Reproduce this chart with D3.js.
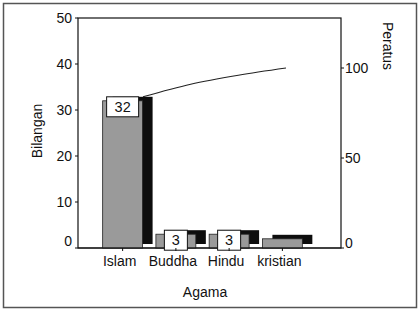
<!DOCTYPE html>
<html>
<head>
<meta charset="utf-8">
<script src="https://cdn.jsdelivr.net/npm/d3@7"></script>
<style>
body{margin:0;background:#fff;}
svg text{font-family:"Liberation Sans",Arial,sans-serif;fill:#111;}
</style>
</head>
<body>
<script>
// data
var categories=["Islam","Buddha","Hindu","kristian"];
var counts=[32,3,3,2];
var labels=["32","3","3",""];		// kristian has no value box
var cumPercent=[84,91,96,100];
var leftTicks=[0,10,20,30,40,50];
var rightTicks=[0,50,100];

var W=419,H=309;
var plot={left:78,right:341,top:18,bottom:248};
var depth={x:10,y:-4};	//offset of the black shadow behind each bar

var svg=d3.select("body").append("svg")
	.attr("width",W)
	.attr("height",H);

// page border
svg.append("rect")
	.attr("x",3.5).attr("y",3.5)
	.attr("width",W-6).attr("height",H-5)
	.attr("fill","none")
	.attr("stroke","#555")
	.attr("stroke-width",1.5);

var x=d3.scaleBand()
	.domain(categories)
	.range([96,309])
	.paddingInner(0.25)
	.paddingOuter(0.125);

var yL=d3.scaleLinear().domain([0,50]).range([plot.bottom,plot.top]);
var yR=d3.scaleLinear().domain([0,100]).range([plot.bottom,68]);
var xLine=d3.scalePoint().domain(categories).range([143,286]);

// frame
svg.append("rect")
	.attr("x",plot.left).attr("y",plot.top)
	.attr("width",plot.right-plot.left)
	.attr("height",plot.bottom-plot.top)
	.attr("fill","none")
	.attr("stroke","#111")
	.attr("stroke-width",1.2);

var data=categories.map(function(c,i){return {cat:c,val:counts[i],lab:labels[i]};});

// shadows first, then the grey fronts
svg.selectAll(".shadow")
	.data(data)
	.enter().append("rect")
	.attr("class","shadow")
	.attr("x",function(d){return x(d.cat)+depth.x;})
	.attr("y",function(d){return yL(d.val)+depth.y;})
	.attr("width",x.bandwidth())
	.attr("height",function(d){return plot.bottom-yL(d.val);})
	.attr("fill","#0d0d0d");

svg.selectAll(".bar")
	.data(data)
	.enter().append("rect")
	.attr("class","bar")
	.attr("x",function(d){return x(d.cat);})
	.attr("y",function(d){return yL(d.val);})
	.attr("width",x.bandwidth())
	.attr("height",function(d){return plot.bottom-yL(d.val);})
	.attr("fill","#9a9a9a")
	.attr("stroke","#222")
	.attr("stroke-width",0.8);

// baseline over the shadows
svg.append("line")
	.attr("x1",plot.left).attr("x2",plot.right)
	.attr("y1",plot.bottom).attr("y2",plot.bottom)
	.attr("stroke","#111").attr("stroke-width",1.2);

// cumulative line
var line=d3.line()
	.x(function(d,i){return xLine(categories[i]);})
	.y(function(d){return yR(d);})
	.curve(d3.curveMonotoneX);
svg.append("path")
	.attr("d",line(cumPercent))
	.attr("fill","none")
	.attr("stroke","#222")
	.attr("stroke-width",1.1);

// value boxes
var boxes=svg.selectAll(".vbox")
	.data(data.filter(function(d){return d.lab!="";}))
	.enter().append("g")
	.attr("class","vbox")
	.attr("transform",function(d){
		return "translate("+(x(d.cat)+x.bandwidth()/2)+","+(yL(d.val)-4)+")";
	});
boxes.append("rect")
	.attr("x",function(d){return d.lab.length>1?-16:-11.5;})
	.attr("y",0)
	.attr("width",function(d){return d.lab.length>1?32:23;})
	.attr("height",20)
	.attr("fill","#fff")
	.attr("stroke","#111")
	.attr("stroke-width",1);
boxes.append("text")
	.attr("y",15)
	.attr("text-anchor","middle")
	.style("font-size","14.5px")
	.text(function(d){return d.lab;});

// left axis
var gl=svg.append("g");
leftTicks.forEach(function(t){
	gl.append("line")
		.attr("x1",plot.left-3).attr("x2",plot.left)
		.attr("y1",yL(t)).attr("y2",yL(t))
		.attr("stroke","#111");
	gl.append("text")
		.attr("x",plot.left-6)
		.attr("y",yL(t)+(t==0?-7:0))
		.attr("dy","0.35em")
		.attr("text-anchor","end")
		.style("font-size","14px")
		.text(t);
});

// right axis
var gr=svg.append("g");
rightTicks.forEach(function(t){
	gr.append("line")
		.attr("x1",plot.right).attr("x2",plot.right+3)
		.attr("y1",yR(t)).attr("y2",yR(t))
		.attr("stroke","#111");
	gr.append("text")
		.attr("x",plot.right+4)
		.attr("y",yR(t)+(t==0?-5:0))
		.attr("dy","0.35em")
		.style("font-size","14px")
		.text(t);
});

// category ticks and labels
categories.forEach(function(c){
	var cx=x(c)+x.bandwidth()/2;
	svg.append("line")
		.attr("x1",cx).attr("x2",cx)
		.attr("y1",plot.bottom).attr("y2",plot.bottom+3)
		.attr("stroke","#111");
	svg.append("text")
		.attr("x",cx-3)
		.attr("y",plot.bottom+18)
		.attr("text-anchor","middle")
		.style("font-size","14px")
		.text(c);
});

// axis titles
svg.append("text")
	.attr("transform","translate(42,131) rotate(-90)")
	.attr("text-anchor","middle")
	.style("font-size","14px")
	.text("Bilangan");
svg.append("text")
	.attr("transform","translate(383,46) rotate(90)")
	.attr("text-anchor","middle")
	.style("font-size","14px")
	.text("Peratus");
svg.append("text")
	.attr("x",205)
	.attr("y",297)
	.attr("text-anchor","middle")
	.style("font-size","14px")
	.text("Agama");
</script>
</body>
</html>
